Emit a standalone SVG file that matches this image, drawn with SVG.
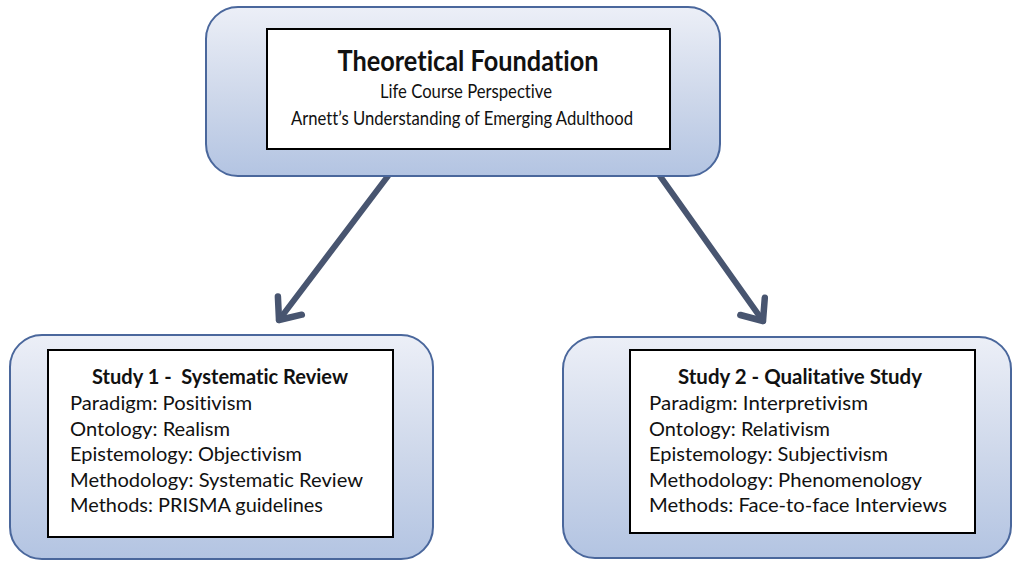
<svg xmlns="http://www.w3.org/2000/svg" width="1013" height="562" viewBox="0 0 1013 562">
  <defs>
    <linearGradient id="blueGrad" x1="0" y1="0" x2="0" y2="1">
      <stop offset="0" stop-color="#eceff7"/>
      <stop offset="0.55" stop-color="#cdd7ea"/>
      <stop offset="1" stop-color="#b3c4e2"/>
    </linearGradient>
    <marker id="chev" markerUnits="userSpaceOnUse" markerWidth="40" markerHeight="40" viewBox="-30 -20 40 40" refX="0" refY="0" orient="auto">
      <path d="M -18,-15 L 0,0 L -18,15" fill="none" stroke="#485570" stroke-width="6.5" stroke-linecap="round" stroke-linejoin="round"/>
    </marker>
    <style>
      .outer { fill: url(#blueGrad); stroke: #4a679c; stroke-width: 2; }
      .inner { fill: #ffffff; stroke: #000000; stroke-width: 2; }
      .t { font-family: "Lato", "Liberation Sans", sans-serif; fill: #111111; font-variant-ligatures: none; }
      .title { font-size: 28px; font-weight: bold; text-anchor: middle; }
      .sub { font-size: 20px; text-anchor: middle; }
      .head { font-size: 20px; font-weight: bold; text-anchor: middle; }
      .line { font-size: 20px; }
      .conn { stroke: #485570; stroke-width: 6; fill: none; stroke-linecap: round; }
    </style>
  </defs>

  <g id="connectors">
    <path class="conn" d="M 388,176 L 279,320" marker-end="url(#chev)"/>
    <path class="conn" d="M 660,176 L 763,321" marker-end="url(#chev)"/>
  </g>

  <g id="node-theoretical-foundation">
    <rect class="outer" x="206" y="7" width="514" height="169" rx="32" ry="32"/>
    <rect class="inner" x="267" y="29" width="403" height="120"/>
    <text class="t title" x="468" y="71" textLength="261" lengthAdjust="spacingAndGlyphs">Theoretical Foundation</text>
    <text class="t sub" x="466" y="98" textLength="172" lengthAdjust="spacingAndGlyphs">Life Course Perspective</text>
    <text class="t sub" x="462" y="125" textLength="342" lengthAdjust="spacingAndGlyphs">Arnett’s Understanding of Emerging Adulthood</text>
  </g>

  <g id="node-study1">
    <rect class="outer" x="10" y="335" width="423" height="224" rx="32" ry="32"/>
    <rect class="inner" x="48" y="350" width="345" height="187"/>
    <text class="t head" x="220" y="384" textLength="256" lengthAdjust="spacingAndGlyphs" xml:space="preserve">Study 1 -  Systematic Review</text>
    <text class="t line" x="70" y="410" textLength="182" lengthAdjust="spacingAndGlyphs">Paradigm: Positivism</text>
    <text class="t line" x="70" y="435.5" textLength="160" lengthAdjust="spacingAndGlyphs">Ontology: Realism</text>
    <text class="t line" x="70" y="461" textLength="232" lengthAdjust="spacingAndGlyphs">Epistemology: Objectivism</text>
    <text class="t line" x="70" y="486.5" textLength="293" lengthAdjust="spacingAndGlyphs">Methodology: Systematic Review</text>
    <text class="t line" x="70" y="512" textLength="253" lengthAdjust="spacingAndGlyphs">Methods: PRISMA guidelines</text>
  </g>

  <g id="node-study2">
    <rect class="outer" x="563" y="337" width="448" height="221" rx="32" ry="32"/>
    <rect class="inner" x="630" y="350" width="345" height="183"/>
    <text class="t head" x="800" y="384" textLength="244" lengthAdjust="spacingAndGlyphs">Study 2 - Qualitative Study</text>
    <text class="t line" x="649" y="410" textLength="219" lengthAdjust="spacingAndGlyphs">Paradigm: Interpretivism</text>
    <text class="t line" x="649" y="435.5" textLength="181" lengthAdjust="spacingAndGlyphs">Ontology: Relativism</text>
    <text class="t line" x="649" y="461" textLength="239" lengthAdjust="spacingAndGlyphs">Epistemology: Subjectivism</text>
    <text class="t line" x="649" y="486.5" textLength="273" lengthAdjust="spacingAndGlyphs">Methodology: Phenomenology</text>
    <text class="t line" x="649" y="512" textLength="298" lengthAdjust="spacingAndGlyphs">Methods: Face-to-face Interviews</text>
  </g>
</svg>
